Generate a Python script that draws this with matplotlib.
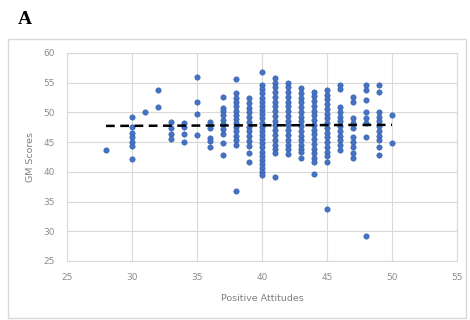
import matplotlib
matplotlib.use("Agg")
import matplotlib.pyplot as plt
import numpy as np
from matplotlib.patches import Rectangle

# Positive-attitude score levels and the GM scores recorded at each level
attitude_levels = [28, 30, 31, 32, 33, 34, 35, 36, 37, 38, 39, 40, 41, 42,
                   43, 44, 45, 46, 47, 48, 49, 50]
gm_by_level = [
    [43.7],
    [49.3, 47.6, 46.5, 45.8, 45.0, 44.4, 42.2],
    [50.1],
    [53.8, 50.9],
    [48.4, 47.4, 46.4, 45.5],
    [48.2, 47.6, 46.4, 45.0],
    [56.0, 51.8, 49.7, 46.2],
    [48.4, 47.4, 45.7, 45.2, 44.2],
    [52.6, 50.8, 50.2, 49.5, 48.8, 48.0, 47.2, 46.3, 44.9, 42.8],
    [55.6, 53.3, 52.4, 51.7, 51.0, 50.3, 49.6, 48.9, 48.2, 47.5, 46.8,
     46.1, 45.4, 44.6, 36.8],
    [52.4, 51.6, 50.8, 50.0, 49.2, 48.4, 47.6, 46.8, 46.0, 45.2, 44.4,
     43.2, 41.7],
    [56.8, 54.6, 53.9, 53.2, 52.5, 51.8, 51.1, 50.4, 49.7, 49.0, 48.3,
     47.6, 46.9, 46.2, 45.5, 44.8, 44.1, 43.4, 42.7, 42.0, 41.3, 40.6,
     39.9, 39.4],
    [55.8, 55.0, 54.2, 53.4, 52.6, 51.8, 51.0, 50.2, 49.4, 48.6, 47.8,
     47.0, 46.2, 45.4, 44.6, 43.8, 43.2, 39.2],
    [55.0, 54.2, 53.4, 52.6, 51.8, 51.0, 50.2, 49.4, 48.6, 47.8, 47.0,
     46.2, 45.4, 44.6, 43.8, 43.0],
    [54.1, 53.3, 52.5, 51.7, 50.9, 50.1, 49.3, 48.5, 47.7, 46.9, 46.1,
     45.3, 44.6, 43.9, 43.3, 42.3],
    [53.5, 52.7, 51.9, 51.1, 50.3, 49.5, 48.7, 47.9, 47.1, 46.3, 45.5,
     44.7, 43.9, 43.2, 42.4, 41.6, 39.7],
    [53.8, 53.0, 52.2, 51.4, 50.6, 49.8, 49.0, 48.2, 47.4, 46.6, 45.8,
     45.0, 44.2, 43.4, 42.6, 41.6, 33.8],
    [54.6, 54.0, 50.9, 50.1, 49.3, 48.5, 47.7, 46.9, 46.1, 45.3, 44.5,
     43.7],
    [52.6, 51.8, 49.1, 48.2, 47.4, 45.9, 45.0, 44.2, 43.2, 42.3],
    [54.6, 53.8, 52.1, 50.1, 49.1, 48.3, 45.9, 29.2],
    [54.6, 53.5, 50.1, 49.3, 48.5, 47.7, 46.9, 46.1, 45.3, 44.2, 42.8],
    [49.6, 44.9],
]

x = np.concatenate([[lvl] * len(v) for lvl, v in zip(attitude_levels, gm_by_level)])
y = np.concatenate(gm_by_level)

fig = plt.figure(figsize=(4.7, 3.2), dpi=100)
ax = fig.add_axes([0.1426, 0.1844, 0.8297, 0.65])

ax.scatter(x, y, s=15, color="#4472C4", edgecolors="#3a5fa8", linewidths=0.4, zorder=3)

# linear trendline over the observed range
slope, intercept = np.polyfit(x, y, 1)
xt = np.array([x.min(), x.max()])
ax.plot(xt, slope * xt + intercept, color="black", lw=1.8, ls=(0, (3.5, 2.2)), zorder=4)

ax.set_xlim(25, 55)
ax.set_ylim(25, 60)
ax.set_xticks(range(25, 56, 5))
ax.set_yticks(range(25, 61, 5))
ax.grid(True, color="#d9d9d9", lw=0.8)
ax.set_axisbelow(True)
for sp in ax.spines.values():
    sp.set_color("#d9d9d9")
    sp.set_linewidth(0.8)
ax.tick_params(length=0, labelsize=6.5, labelcolor="#8c8c8c", pad=9)

ax.set_xlabel("Positive Attitudes", fontsize=6.8, color="#7f7f7f", labelpad=8)
ax.set_ylabel("GM Scores", fontsize=6.8, color="#7f7f7f", labelpad=6)

# chart frame and panel letter
fig.patches.append(Rectangle((8 / 470, 2 / 320), 458 / 470, 279 / 320,
                             transform=fig.transFigure, fill=False,
                             edgecolor="#d9d9d9", lw=1.0))
fig.text(18 / 470, 1 - 20 / 320, "A", fontsize=14, fontweight="bold",
         family="Liberation Serif", va="center", ha="left")

fig.savefig("out.png", dpi=100)
